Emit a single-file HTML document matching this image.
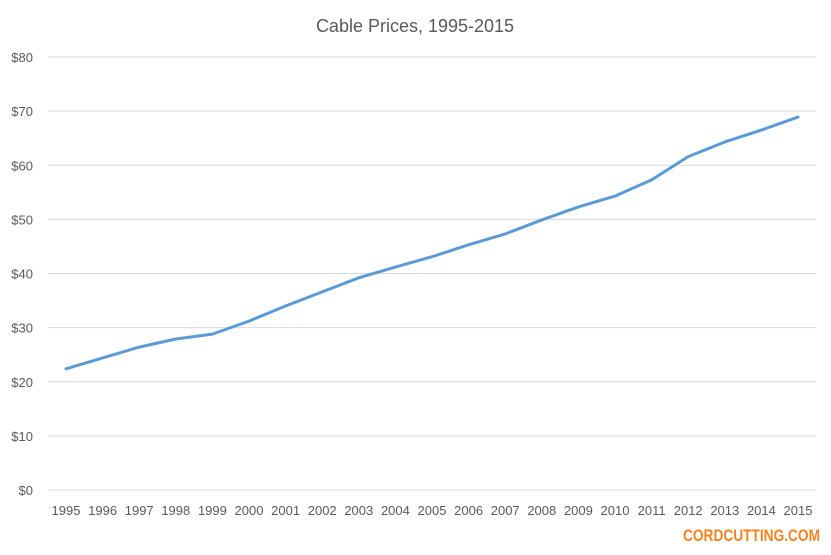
<!DOCTYPE html>
<html><head><meta charset="utf-8">
<style>
html,body{margin:0;padding:0;background:#fff;}
body{width:831px;height:550px;overflow:hidden;font-family:"Liberation Sans",sans-serif;}
</style></head>
<body>
<svg id="chart" width="831" height="550" xmlns="http://www.w3.org/2000/svg">
<text x="415" y="32" text-anchor="middle" font-size="18" fill="#595959" font-family="Liberation Sans, sans-serif">Cable Prices, 1995-2015</text>
<g id="grid"></g><g id="yticks"></g><g id="xticks"></g><g id="series"></g>
<text x="683" y="541" textLength="137" lengthAdjust="spacingAndGlyphs" font-size="17" font-weight="bold" fill="#f5821f" font-family="Liberation Sans, sans-serif">CORDCUTTING.COM</text>
</svg>
<script>
const years=[1995,1996,1997,1998,1999,2000,2001,2002,2003,2004,2005,2006,2007,2008,2009,2010,2011,2012,2013,2014,2015];
const prices=[22.4,24.4,26.4,27.9,28.8,31.2,34.0,36.6,39.2,41.2,43.1,45.3,47.3,49.9,52.3,54.3,57.3,61.6,64.3,66.5,68.9];
const yTicks=[0,10,20,30,40,50,60,70,80];
const NS="http://www.w3.org/2000/svg";
const x0=66,x1=798,yTop=57,yBot=490,yMax=80;
function xs(i){return x0+(x1-x0)*i/(years.length-1);}
function ys(v){return yBot-(yBot-yTop)*v/yMax;}
function mk(tag,attrs,parent){const e=document.createElementNS(NS,tag);for(const k in attrs)e.setAttribute(k,attrs[k]);parent.appendChild(e);return e;}
const grid=document.getElementById('grid'),yt=document.getElementById('yticks'),xt=document.getElementById('xticks'),se=document.getElementById('series');
yTicks.forEach(v=>{
  const l=mk('line',{x1:48,x2:816,y1:ys(v),y2:ys(v),stroke:'#d9d9d9','stroke-width':1},grid);
  
  
  const t=mk('text',{x:33,y:ys(v)+5,'text-anchor':'end','font-size':13,fill:'#595959'},yt);
  t.textContent='$'+v;
  
  
});
years.forEach((y,i)=>{
  const t=mk('text',{x:xs(i),y:515,'text-anchor':'middle','font-size':13,fill:'#595959'},xt);
  t.textContent=y;
  
  
});
const p=mk('polyline',{points:prices.map((v,i)=>xs(i)+','+ys(v)).join(' '),fill:'none',stroke:'#5b9bd5','stroke-width':3,'stroke-linejoin':'round','stroke-linecap':'round'},se);


</script>
</body></html>
